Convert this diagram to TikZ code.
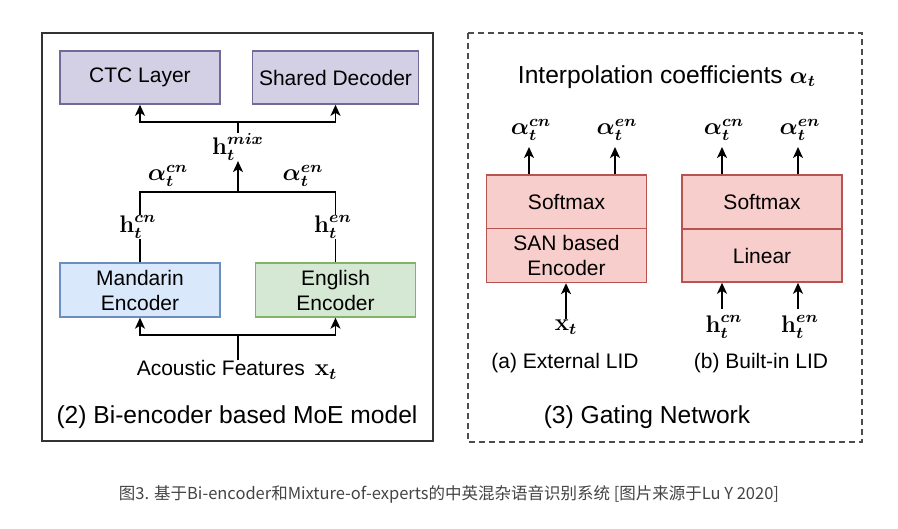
\documentclass[tikz,border=0pt]{standalone}
\usepackage{amsmath,bm}
\usepackage[no-math]{fontspec}
\setmainfont{Liberation Sans}
\newfontfamily\cjkfont{Noto Sans CJK SC}
\usetikzlibrary{arrows.meta}

\definecolor{ctcFill}{HTML}{D3D0E5}
\definecolor{ctcLine}{HTML}{6F6A96}
\definecolor{manFill}{HTML}{DAE8FC}
\definecolor{manLine}{HTML}{6C8EBF}
\definecolor{engFill}{HTML}{D5E8D4}
\definecolor{engLine}{HTML}{82B366}
\definecolor{gateFill}{HTML}{F8CECC}
\definecolor{gateLine}{HTML}{B85450}
\definecolor{capGray}{HTML}{444444}

\newcommand\moeFont{\fontsize{10.5}{12.5}\selectfont}
\newcommand\moeCap{\fontsize{12.3}{14}\selectfont}
\newcommand\moeMath{\fontsize{12}{14}\selectfont}

\begin{document}
\begin{tikzpicture}[x=0.5pt,y=-0.5pt,
    moeBk/.style={rectangle,line width=0.8pt,minimum width=80pt,minimum height=26.5pt,align=center,font=\moeFont},
    moeCtc/.style={moeBk,draw=ctcLine,fill=ctcFill},
    moeMan/.style={moeBk,draw=manLine,fill=manFill},
    moeEng/.style={moeBk,draw=engLine,fill=engFill},
    gateBk/.style={moeBk,draw=gateLine,fill=gateFill},
    moeLbl/.style={inner sep=0pt,font=\moeFont},
    moeSym/.style={inner sep=0pt,font=\moeMath},
    moeCapN/.style={inner sep=0pt,font=\moeCap},
    moeLine/.style={line width=0.8pt},
    moeArr/.style={moeLine,-{Stealth[length=5.5pt,width=5pt,inset=1.5pt]}},
]
\useasboundingbox (0,0) rectangle (898,529);
% frames
\draw[line width=1pt,black!80] (42,33) rectangle (433,441);
\draw[line width=0.9pt,black!70,dash pattern=on 3pt off 2pt] (468,33) rectangle (862,442);

% (2) Bi-encoder based MoE model
\node[moeCtc] (ctc) at (140,77.5) {CTC Layer};
\node[moeCtc] (dec) at (335.5,77.5) {Shared Decoder};
\node[moeMan] (man) at (140,290) {Mandarin\\Encoder};
\node[moeEng] (eng) at (335.5,290) {English\\Encoder};
\node[moeSym] (hmix) at (238,147) {$\bm{\mathbf{h}_t^{mix}}$};
\node[moeSym] (acn) at (168,176) {$\bm{\alpha_t^{cn}}$};
\node[moeSym] (aen) at (303,176) {$\bm{\alpha_t^{en}}$};
\node[moeSym] (hcn) at (138,227) {$\bm{\mathbf{h}_t^{cn}}$};
\node[moeSym] (hen) at (333,227) {$\bm{\mathbf{h}_t^{en}}$};
\node[moeLbl] (acu) at (237,370) {Acoustic Features\hspace{5pt}{\moeMath$\bm{\mathbf{x}_t}$}};
\node[moeCapN] (cap2) at (237,417) {(2) Bi-encoder based MoE model};
\coordinate (mixT) at (238,122);
\coordinate (sumC) at (238,192);
\coordinate (inC) at (238,335);
\draw[moeArr] (mixT) -| (ctc.south);
\draw[moeArr] (mixT) -| (dec.south);
\draw[moeLine] (hmix.north) -- (mixT);
\draw[moeArr] (sumC) -- (hmix.south);
\draw[moeLine] (man.north |- hcn.north) |- (sumC) -| (eng.north |- hen.north);
\draw[moeLine] (man.north) -- (man.north |- hcn.south);
\draw[moeLine] (eng.north) -- (eng.north |- hen.south);
\draw[moeArr] (inC) -| (man.south);
\draw[moeArr] (inC) -| (eng.south);
\draw[moeLine] (inC |- acu.north) -- (inC);

% (3) Gating Network
\node[moeCapN] (interp) at (667,77) {Interpolation coefficients {\moeMath$\bm{\alpha_t}$}};
\node[gateBk,minimum height=27pt] (softA) at (566.5,202) {Softmax};
\node[gateBk] (sanA) at (566.5,255.5) {SAN based\\Encoder};
\node[gateBk,minimum height=27pt] (softB) at (762,202) {Softmax};
\node[gateBk] (linB) at (762,255.5) {Linear};
\node[moeSym] (acnA) at (531,130) {$\bm{\alpha_t^{cn}}$};
\node[moeSym] (aenA) at (617,130) {$\bm{\alpha_t^{en}}$};
\node[moeSym] (acnB) at (724,130) {$\bm{\alpha_t^{cn}}$};
\node[moeSym] (aenB) at (800,130) {$\bm{\alpha_t^{en}}$};
\node[moeSym] (xA) at (566,327) {$\bm{\mathbf{x}_t}$};
\node[moeSym] (hcnB) at (724,327) {$\bm{\mathbf{h}_t^{cn}}$};
\node[moeSym] (henB) at (800,327) {$\bm{\mathbf{h}_t^{en}}$};
\node[moeLbl] (labA) at (565,363) {(a) External LID};
\node[moeLbl] (labB) at (761,363) {(b) Built-in LID};
\node[moeCapN] (cap3) at (647,417) {(3) Gating Network};
\coordinate (outA1) at (529,147);
\coordinate (outA2) at (615,147);
\coordinate (outB1) at (722,147);
\coordinate (outB2) at (798,147);
\coordinate (inB1) at (722,309);
\coordinate (inB2) at (798,309);
\draw[moeArr] (softA.north -| outA1) -- (outA1);
\draw[moeArr] (softA.north -| outA2) -- (outA2);
\draw[moeArr] (softB.north -| outB1) -- (outB1);
\draw[moeArr] (softB.north -| outB2) -- (outB2);
\draw[moeArr] (xA.north) -- (sanA.south -| xA);
\draw[moeArr] (inB1) -- (linB.south -| inB1);
\draw[moeArr] (inB2) -- (linB.south -| inB2);

% figure caption
\node[inner sep=0pt,text=capGray,font=\cjkfont\fontsize{8.25}{9}\selectfont] (fig) at (449,494)
  {图3. 基于Bi-encoder和Mixture-of-experts的中英混杂语音识别系统 [图片来源于Lu Y 2020]};
\end{tikzpicture}
\end{document}
